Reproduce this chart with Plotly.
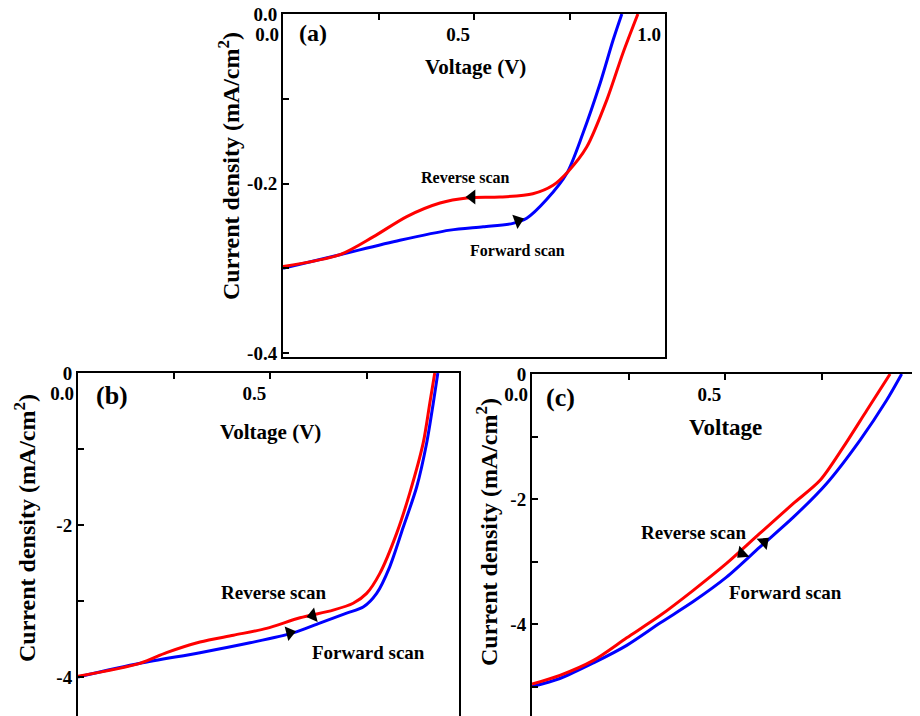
import plotly.graph_objects as go

# ---------------- data ----------------
# panel (a)
a_fwd_v = [0.0, 0.149, 0.306, 0.437, 0.524, 0.602, 0.638, 0.690, 0.743, 0.785, 0.830, 0.864, 0.887]
a_fwd_j = [-0.300, -0.284, -0.267, -0.255, -0.251, -0.247, -0.241, -0.219, -0.188, -0.141, -0.082, -0.031, 0.0]
a_rev_v = [0.0, 0.149, 0.236, 0.324, 0.411, 0.481, 0.568, 0.654, 0.707, 0.746, 0.795, 0.848, 0.890, 0.929]
a_rev_j = [-0.298, -0.284, -0.263, -0.239, -0.223, -0.217, -0.216, -0.212, -0.202, -0.186, -0.157, -0.101, -0.046, 0.0]
# panel (b)
b_fwd_v = [0.0, 0.161, 0.317, 0.447, 0.559, 0.628, 0.698, 0.741, 0.776, 0.810, 0.845, 0.880, 0.906, 0.923, 0.935]
b_fwd_j = [-4.0, -3.82, -3.68, -3.55, -3.42, -3.29, -3.16, -3.08, -2.90, -2.55, -2.03, -1.50, -0.92, -0.40, 0.0]
b_rev_v = [0.0, 0.161, 0.23, 0.317, 0.404, 0.49, 0.577, 0.663, 0.715, 0.75, 0.784, 0.828, 0.862, 0.897, 0.914, 0.927]
b_rev_j = [-3.99, -3.82, -3.68, -3.54, -3.45, -3.36, -3.22, -3.12, -3.03, -2.90, -2.64, -2.11, -1.58, -0.92, -0.40, 0.0]
# panel (c)
c_fwd_v = [0.0, 0.072, 0.159, 0.245, 0.332, 0.417, 0.503, 0.589, 0.676, 0.762, 0.848, 0.917, 0.956]
c_fwd_j = [-5.0, -4.87, -4.62, -4.34, -3.98, -3.64, -3.25, -2.77, -2.29, -1.75, -1.06, -0.42, 0.0]
c_rev_v = [0.0, 0.072, 0.159, 0.245, 0.332, 0.417, 0.503, 0.589, 0.676, 0.745, 0.805, 0.866, 0.926]
c_rev_j = [-4.96, -4.82, -4.58, -4.22, -3.86, -3.46, -3.03, -2.55, -2.07, -1.70, -1.17, -0.58, 0.0]

# scan direction arrow positions (voltage, current)
a_rev_arrow = (0.495, -0.216)
a_fwd_arrow = (0.615, -0.244)
b_rev_arrow = (0.61, -3.19)
b_fwd_arrow = (0.55, -3.42)
c_rev_arrow = (0.543, -2.87)
c_fwd_arrow = (0.60, -2.69)

# tick labels
x_tickvals = [0.0, 0.5, 1.0]
x_ticktext = ["0.0", "0.5", "1.0"]
a_y_tickvals = [0.0, -0.2, -0.4]
a_y_ticktext = ["0.0", "-0.2", "-0.4"]
bc_y_tickvals = [0, -2, -4]
bc_y_ticktext = ["0", "-2", "-4"]

# the page body has an 8px margin: the figure sits at (8, 8) in the window
OFF = 8
W, H = 920 - OFF, 716 - OFF
FONT = "Liberation Serif"
RED = "#ff0000"
BLUE = "#0000ff"


def px(x):
    return (x - OFF) / W


def py(y):
    return 1 - (y - OFF) / H


fig = go.Figure()

panels = [
    ("x", "y", a_fwd_v, a_fwd_j, a_rev_v, a_rev_j, a_rev_arrow, a_fwd_arrow, (0, -20)),
    ("x2", "y2", b_fwd_v, b_fwd_j, b_rev_v, b_rev_j, b_rev_arrow, b_fwd_arrow, (-14, -14)),
    ("x3", "y3", c_fwd_v, c_fwd_j, c_rev_v, c_rev_j, c_rev_arrow, c_fwd_arrow, (-42, -42)),
]
for xa, ya, fv, fj, rv, rj, rarr, farr, angs in panels:
    fig.add_trace(go.Scatter(x=fv, y=fj, mode="lines", xaxis=xa, yaxis=ya,
                             line=dict(color=BLUE, width=3, shape="spline", smoothing=0.8),
                             showlegend=False, hoverinfo="skip"))
    fig.add_trace(go.Scatter(x=rv, y=rj, mode="lines", xaxis=xa, yaxis=ya,
                             line=dict(color=RED, width=3, shape="spline", smoothing=0.8),
                             showlegend=False, hoverinfo="skip"))
    fig.add_trace(go.Scatter(x=[rarr[0]], y=[rarr[1]], mode="markers", xaxis=xa, yaxis=ya,
                             marker=dict(symbol="triangle-left", size=13, color="black",
                                         angle=angs[0]),
                             showlegend=False, hoverinfo="skip"))
    fig.add_trace(go.Scatter(x=[farr[0]], y=[farr[1]], mode="markers", xaxis=xa, yaxis=ya,
                             marker=dict(symbol="triangle-right", size=13, color="black",
                                         angle=angs[1]),
                             showlegend=False, hoverinfo="skip"))

tickfont = dict(family=FONT, size=19, color="black", weight="bold")


def xaxis(domain, rng, anchor, mirror):
    return dict(domain=domain, range=rng, anchor=anchor, side="top",
                tickvals=x_tickvals, ticktext=x_ticktext,
                ticks="inside", ticklen=6, tickwidth=1.5, tickcolor="black",
                minor=dict(tickvals=[0.25, 0.75], ticks="inside", ticklen=6,
                           tickwidth=1.5, tickcolor="black"),
                ticklabelposition="inside", ticklabelshift=-16, ticklabelstandoff=9,
                ticklabeloverflow="allow", automargin=False,
                showline=True, linewidth=2, linecolor="black", mirror=mirror,
                showgrid=False, zeroline=False, tickfont=tickfont, fixedrange=True)


def yaxis(domain, rng, anchor, tv, tt, minor_vals):
    return dict(domain=domain, range=rng, anchor=anchor,
                tickvals=tv, ticktext=tt,
                ticks="inside", ticklen=6, tickwidth=1.5, tickcolor="black",
                minor=dict(tickvals=minor_vals, ticks="inside", ticklen=6,
                           tickwidth=1.5, tickcolor="black"),
                automargin=False, ticklabeloverflow="allow",
                showline=True, linewidth=2, linecolor="black", mirror=True,
                showgrid=False, zeroline=False, tickfont=tickfont, fixedrange=True)


fig.update_layout(
    width=W, height=H,
    margin=dict(l=0, r=0, t=0, b=0, autoexpand=False),
    paper_bgcolor="white", plot_bgcolor="white",
    xaxis=xaxis([px(283), px(665)], [0, 1.0], "y", True),
    yaxis=yaxis([py(357), py(14)], [-0.4047, 0], "x", a_y_tickvals, a_y_ticktext, [-0.1, -0.3]),
    xaxis2=xaxis([px(78), px(459)], [0, 0.99], "y2", False),
    yaxis2=yaxis([0, py(373)], [-4.513, 0], "x2", bc_y_tickvals, bc_y_ticktext, [-1, -3]),
    xaxis3=xaxis([px(532), px(917)], [0, 0.9956], "y3", False),
    yaxis3=yaxis([0, py(374)], [-5.47, 0], "x3", bc_y_tickvals, bc_y_ticktext, [-1, -3, -5]),
)

ytitle = "Current density (mA/cm<sup>2</sup>)"


def ann(text, x, y, size, angle=0):
    fig.add_annotation(text=text, x=px(x), y=py(y), xref="paper", yref="paper",
                       showarrow=False, textangle=angle, xanchor="center", yanchor="middle",
                       font=dict(family=FONT, size=size, color="black", weight="bold"))


# panel (a)
ann(ytitle, 229, 166, 24, -90)
ann("Voltage (V)", 475, 67, 21)
ann("(a)", 313, 33, 24)
ann("Reverse scan", 465, 178, 16)
ann("Forward scan", 517, 250, 16)
# panel (b)
ann(ytitle, 25, 528, 24, -90)
ann("Voltage (V)", 270, 432, 21)
ann("(b)", 112, 395, 26)
ann("Reverse scan", 273, 592, 19)
ann("Forward scan", 368, 652, 19)
# panel (c)
ann(ytitle, 487, 532, 24, -90)
ann("Voltage", 725, 427, 23)
ann("(c)", 560, 397, 26)
ann("Reverse scan", 693, 532, 19)
ann("Forward scan", 785, 592, 19)

fig.write_html("out.html")
